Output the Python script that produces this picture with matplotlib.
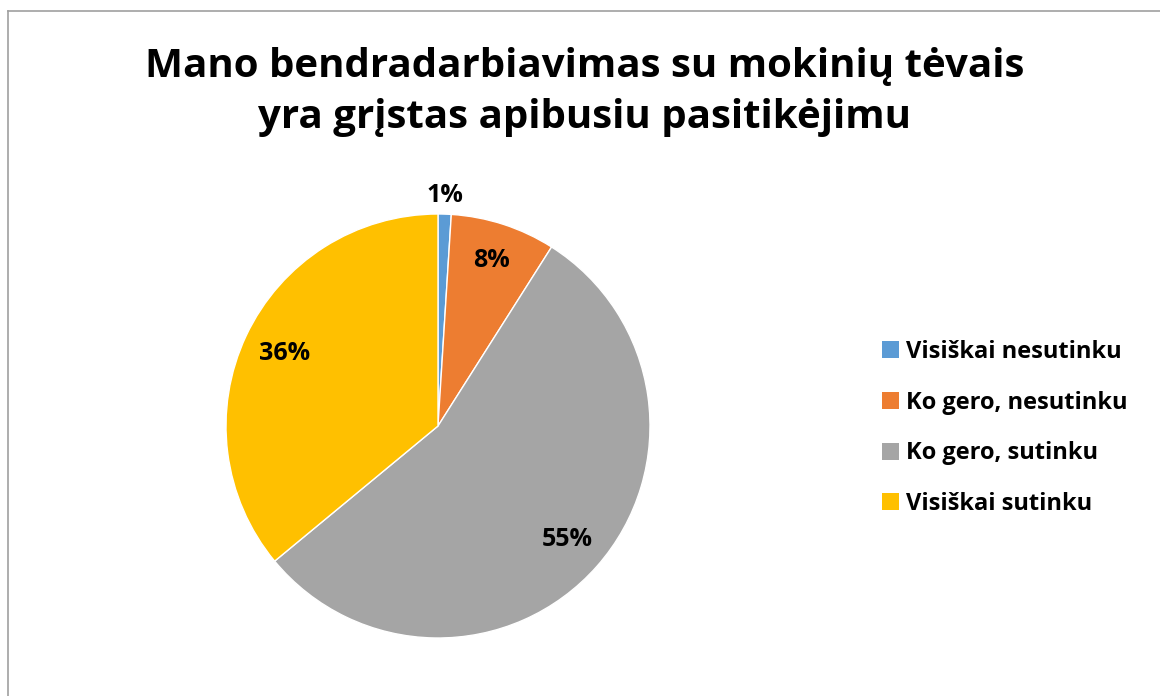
import matplotlib
matplotlib.use("Agg")
import matplotlib.pyplot as plt
from matplotlib.lines import Line2D
from matplotlib.patches import Patch
import numpy as np

title_lines = ["Mano bendradarbiavimas su mokinių tėvais",
               "yra grįstas apibusiu pasitikėjimu"]
categories = ["Visiškai nesutinku", "Ko gero, nesutinku",
              "Ko gero, sutinku", "Visiškai sutinku"]
values = [1, 8, 55, 36]
colors = ["#5B9BD5", "#ED7D31", "#A5A5A5", "#FFC000"]

FONT = "Open Sans"
W, H = 1160, 696
fig = plt.figure(figsize=(W / 100, H / 100), dpi=100)
fig.patch.set_facecolor("white")

# chart-area frame (left and top edges visible)
fig.add_artist(Line2D([8 / W, 8 / W], [0, 1 - 11 / H], transform=fig.transFigure,
                      color="#A0A0A0", lw=1.2))
fig.add_artist(Line2D([8 / W, 1], [1 - 11 / H, 1 - 11 / H], transform=fig.transFigure,
                      color="#A0A0A0", lw=1.2))

# title, two centred lines
fig.text(585 / W, 1 - 77 / H, title_lines[0], ha="center", va="baseline",
         fontsize=29, fontweight="bold", family=FONT, color="black")
fig.text(585 / W, 1 - 128 / H, title_lines[1], ha="center", va="baseline",
         fontsize=29, fontweight="bold", family=FONT, color="black")

# pie
cx, cy, r = 438, 426, 212
ax = fig.add_axes([(cx - r) / W, (H - cy - r) / H, 2 * r / W, 2 * r / H])
wedges, _ = ax.pie(values, colors=colors, startangle=90, counterclock=False,
                   radius=1.0, wedgeprops=dict(edgecolor="white", linewidth=1.0))
ax.set_xlim(-1, 1)
ax.set_ylim(-1, 1)
ax.set_aspect("equal")
ax.axis("off")

total = sum(values)
label_r = [1.09, 0.82, 0.81, 0.80]
for w, v, lr in zip(wedges, values, label_r):
    mid = np.deg2rad((w.theta1 + w.theta2) / 2)
    ax.text(lr * np.cos(mid), lr * np.sin(mid), f"{round(100 * v / total)}%",
            ha="center", va="center", fontsize=18, fontweight="bold",
            family=FONT, color="black", clip_on=False)

# legend
handles = [Patch(facecolor=c, edgecolor="none") for c in colors]
fig.legend(handles, categories, loc="upper left",
           bbox_to_anchor=(882 / W, 1 - 340 / H), frameon=False,
           prop=dict(family=FONT, weight="bold", size=17),
           handlelength=0.72, handleheight=0.72, handletextpad=0.28,
           labelspacing=1.13, borderpad=0, borderaxespad=0)

fig.savefig("out.png", dpi=100, facecolor="white")
